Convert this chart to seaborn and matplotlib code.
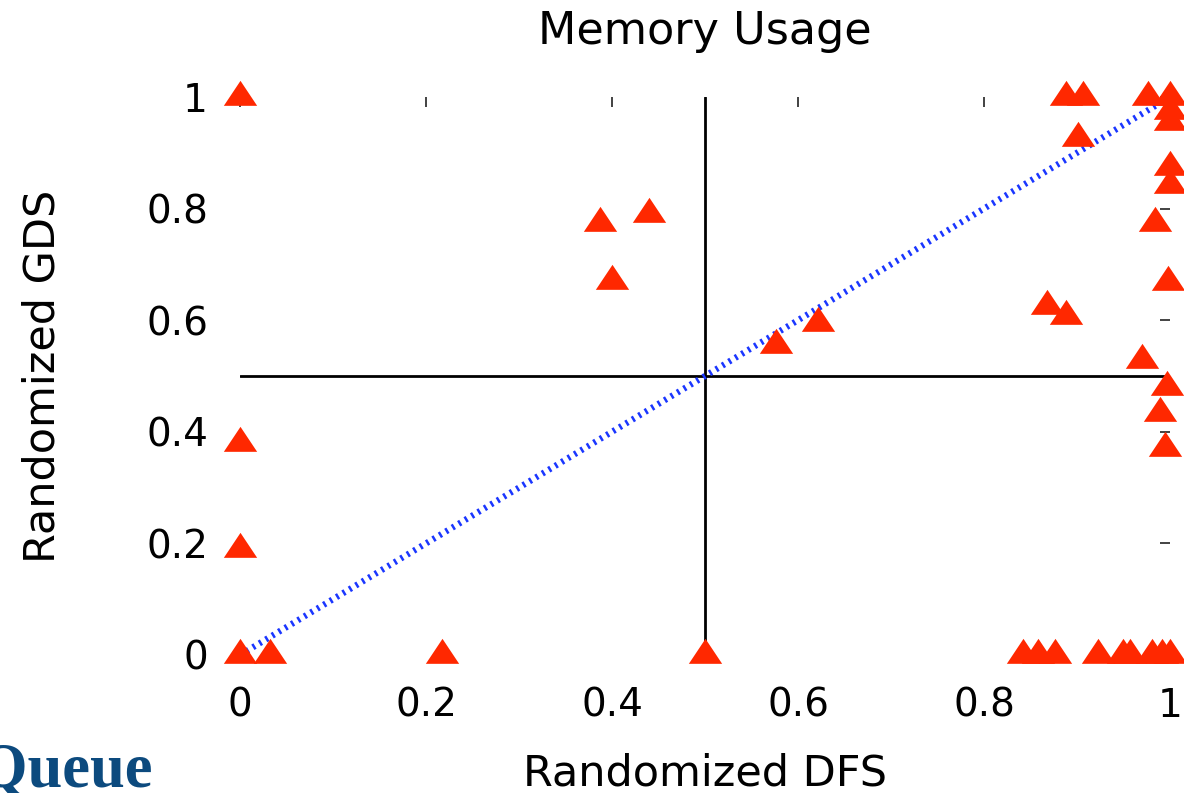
import matplotlib
matplotlib.use("Agg")
import matplotlib.pyplot as plt
import seaborn as sns
import pandas as pd

# ---- data ----
dfs_x = [0.0, 0.0, 0.0, 0.0, 0.032, 0.217,
         0.387, 0.44, 0.40, 0.50, 0.576, 0.621,
         0.868, 0.888, 0.888, 0.906, 0.901, 0.976,
         1.0, 1.0, 1.0, 1.0, 1.0, 0.984, 0.998,
         0.97, 0.997, 0.989, 0.995,
         0.842, 0.858, 0.876, 0.923, 0.949, 0.957, 0.981, 0.991, 1.0]
gds_y = [1.0, 0.38, 0.19, 0.0, 0.0, 0.0,
         0.775, 0.79, 0.67, 0.0, 0.555, 0.595,
         0.625, 0.607, 1.0, 1.0, 0.927, 1.0,
         1.0, 0.975, 0.955, 0.874, 0.842, 0.774, 0.668,
         0.529, 0.48, 0.434, 0.371,
         0.0, 0.0, 0.0, 0.0, 0.0, 0.0, 0.0, 0.0, 0.0]
diag_x = [0.0, 1.0]
diag_y = [0.0, 1.0]
tick_vals = [0, 0.2, 0.4, 0.6, 0.8, 1]
tick_labels = ["0", "0.2", "0.4", "0.6", "0.8", "1"]

sns.set_style("white")
plt.rcParams["font.family"] = ["DejaVu Sans"]
plt.rcParams["text.color"] = "black"
plt.rcParams["axes.labelcolor"] = "black"
plt.rcParams["xtick.labelcolor"] = "black"
plt.rcParams["ytick.labelcolor"] = "black"

fig = plt.figure(figsize=(11.84, 7.93), dpi=100)
ax = fig.add_axes([240/1184, 1-655/793, 930/1184, 558/793])

# crosshair
ax.axvline(0.5, ymin=0, ymax=1, color="black", lw=2.0, zorder=1)
ax.axhline(0.5, xmin=0, xmax=1, color="black", lw=2.0, zorder=1)

# diagonal
sns.lineplot(x=diag_x, y=diag_y, ax=ax, color="#1a36ff", lw=4.5,
             linestyle=(0, (0.4, 0.8)), zorder=2)

tri = [(-1.0, -0.5), (1.0, -0.5), (0.0, 1.0)]
df = pd.DataFrame({"x": dfs_x, "y": gds_y})
sns.scatterplot(data=df, x="x", y="y", ax=ax, marker=tri, s=24**2,
                color="#ff2800", linewidth=0, clip_on=False, zorder=3)

ax.set_xlim(0, 1)
ax.set_ylim(0, 1)
for sp in ax.spines.values():
    sp.set_visible(False)

ax.set_xticks(tick_vals)
ax.set_xticklabels(tick_labels)
ax.set_yticks(tick_vals)
ax.set_yticklabels(tick_labels)
ax.tick_params(axis="both", which="both", direction="in", length=7, width=1.2,
               color="#222222", labelsize=28, top=True, right=True,
               labeltop=False, labelright=False)
ax.tick_params(axis="x", pad=23)
ax.tick_params(axis="y", pad=23)

ax.set_title("Memory Usage", fontsize=32, pad=38, color="black")
ax.set_xlabel("Randomized DFS", fontsize=31)
ax.set_ylabel("Randomized GDS", fontsize=31)
ax.xaxis.set_label_coords(0.5, (655-786)/558)
ax.xaxis.label.set_va("baseline")
ax.yaxis.set_label_coords((55-240)/930, 0.5)
ax.yaxis.label.set_va("baseline")

fig.text(152/1184, 1-787/793, "Queue", ha="right", va="baseline",
         fontsize=45, fontweight="bold", family=["Liberation Serif", "DejaVu Serif"],
         color="#0c4a7e")

fig.savefig("out.png", dpi=100)
